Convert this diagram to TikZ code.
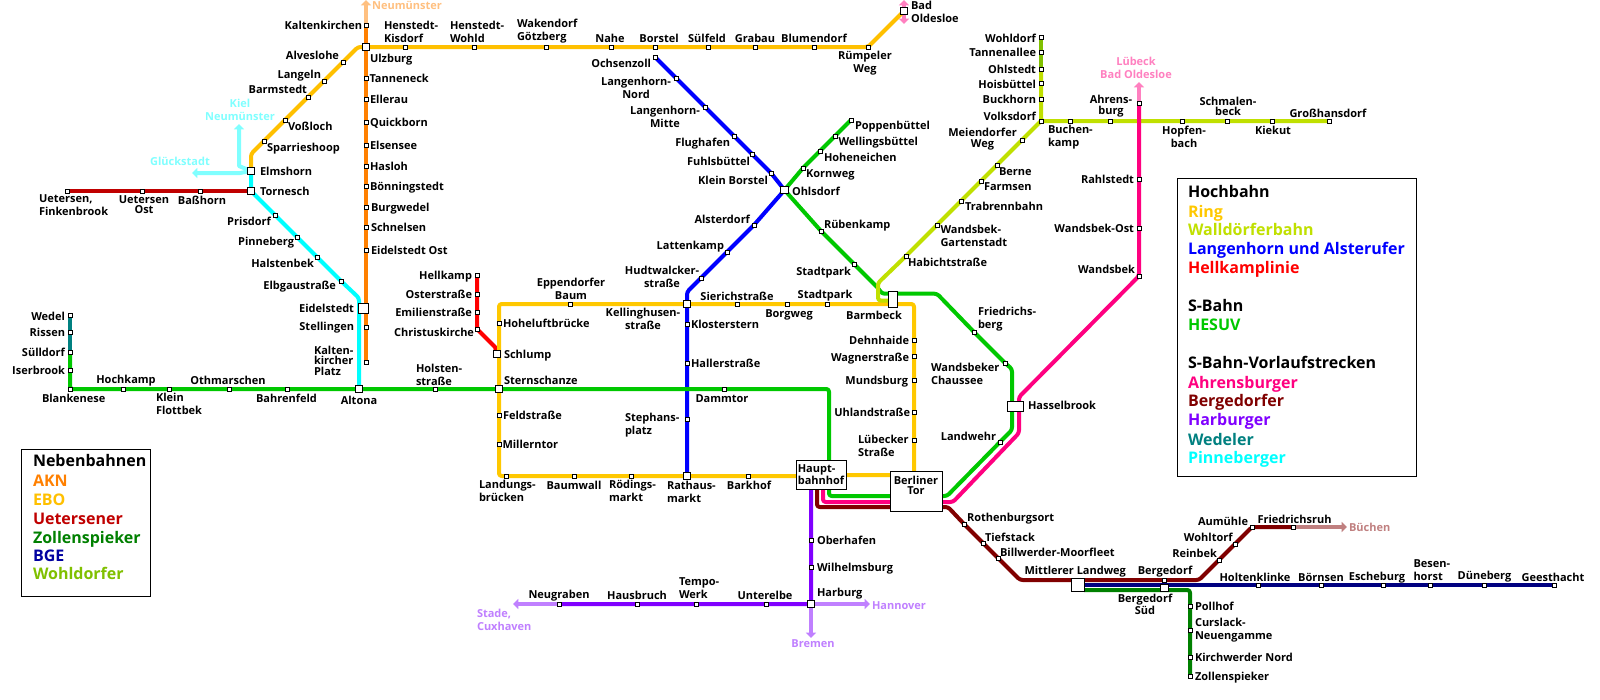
\documentclass[tikz,border=0pt]{standalone}
\usepackage{fontspec}
\setmainfont{Open Sans}
\usetikzlibrary{backgrounds,arrows.meta}
\definecolor{cRing}{HTML}{FFC800}
\definecolor{cEBO}{HTML}{FFC000}
\definecolor{cAKN}{HTML}{FF8000}
\definecolor{cUet}{HTML}{C00000}
\definecolor{cZol}{HTML}{008000}
\definecolor{cBGE}{HTML}{000080}
\definecolor{cBGEt}{HTML}{0000A0}
\definecolor{cWoh}{HTML}{80C000}
\definecolor{cWal}{HTML}{C0E000}
\definecolor{cLan}{HTML}{0000FF}
\definecolor{cHel}{HTML}{FF0000}
\definecolor{cHes}{HTML}{00C800}
\definecolor{cAhr}{HTML}{FF0080}
\definecolor{cBer}{HTML}{800000}
\definecolor{cHar}{HTML}{8000FF}
\definecolor{cWed}{HTML}{008080}
\definecolor{cPin}{HTML}{00FFFF}
\definecolor{lPin}{HTML}{80FFFF}
\definecolor{lAKN}{HTML}{FFC080}
\definecolor{lAhr}{HTML}{FF80C0}
\definecolor{lHar}{HTML}{C080FF}
\definecolor{lBer}{HTML}{C08080}
\tikzset{
  stopn/.style={draw=black,fill=white,line width=.75pt,inner sep=0pt,outer sep=0pt,minimum size=3pt},
  sqn/.style={draw=black,fill=white,line width=.75pt,inner sep=0pt,outer sep=0pt,minimum size=5.4pt},
  lbl/.style={inner sep=0pt,outer sep=0pt,yshift=-.75pt,font=\fontsize{8.25}{9.75}\bfseries\selectfont,
    execute at begin node={\leavevmode\vphantom{Äg}},execute at end node={\vphantom{g}}},
  tight/.style={font=\fontsize{8.25}{7.9}\bfseries\selectfont},
  leg/.style={lbl,anchor=west,font=\fontsize{12}{14}\bfseries\selectfont},
  legbox/.style={draw=black,line width=.75pt,fill=white,anchor=north west,inner sep=0pt,outer sep=0pt},
  linebase/.style={line width=3pt,line join=round,rounded corners=2pt},
  arrowline/.style={line width=3pt,line join=round,-{Triangle[length=4pt,width=7.5pt]}},
}
\newcount\lbn
\newcommand\lL[4][]{\global\advance\lbn by 1 \node[lbl,anchor=west,align=left,#1] (lb\the\lbn) at (#2,#3) {#4};}
\newcommand\lR[4][]{\global\advance\lbn by 1 \node[lbl,anchor=east,align=right,#1] (lb\the\lbn) at (#2,#3) {#4};}
\newcommand\lC[4][]{\global\advance\lbn by 1 \node[lbl,anchor=center,align=center,#1] (lb\the\lbn) at (#2,#3) {#4};}
\newcommand\st[3]{\node[stopn] (#1) at (#2,#3) {};}
\newcommand\sq[4][]{\node[sqn,#1] (#2) at (#3,#4) {};}
\newcommand\legl[4]{\global\advance\lbn by 1 \node[leg,text=#3] (lb\the\lbn) at (#1,#2) {#4};}
\begin{document}
\begin{tikzpicture}[x=.75pt,y=-.75pt]
\useasboundingbox (0,0) rectangle (1600,700);
% ---------- legend boxes
\node[legbox,minimum width=96.75pt,minimum height=110.25pt] (legA) at (21,449) {};
\node[legbox,minimum width=179.25pt,minimum height=223.5pt] (legB) at (1177,178) {};
\legl{33}{460}{black}{Nebenbahnen}
\legl{33}{480}{cAKN}{AKN}
\legl{33}{499}{cEBO}{EBO}
\legl{33}{518}{cUet}{Uetersener}
\legl{33}{537}{cZol}{Zollenspieker}
\legl{33}{555}{cBGEt}{BGE}
\legl{33}{573}{cWoh}{Wohldorfer}
\legl{1188}{191}{black}{Hochbahn}
\legl{1188}{211}{cRing}{Ring}
\legl{1188}{229}{cWal}{Walldörferbahn}
\legl{1188}{248}{cLan}{Langenhorn und Alsterufer}
\legl{1188}{267}{cHel}{Hellkamplinie}
\legl{1188}{305}{black}{S-Bahn}
\legl{1188}{324}{cHes}{HESUV}
\legl{1188}{362}{black}{S-Bahn-Vorlaufstrecken}
\legl{1188}{382}{cAhr}{Ahrensburger}
\legl{1188}{400}{cBer}{Bergedorfer}
\legl{1188}{419}{cHar}{Harburger}
\legl{1188}{439}{cWed}{Wedeler}
\legl{1188}{457}{cPin}{Pinneberger}
% ---------- AKN
\st{kalt}{366}{25}\sq{ulz}{366}{47}\st{tann}{366}{78}\st{elle}{366}{99}\st{quick}{366}{122}
\st{else}{366}{145}\st{hasl}{366}{166}\st{boen}{366}{186}\st{burg}{366}{207}\st{schn}{366}{227}
\st{eidO}{366}{250}\st{stel}{366}{327}\st{kaltP}{366}{362}
\coordinate (neumN) at (366,0);
% ---------- EBO
\st{hkis}{405}{47}\st{hwoh}{474}{47}\st{wake}{546}{47}\st{nahe}{611}{47}\st{bors}{655}{47}
\st{suel}{708}{47}\st{grab}{755}{47}\st{blum}{814}{47}\st{ruem}{868}{47}\sq{oldes}{904}{11}
\coordinate (ulzW) at (358,47);
\st{alve}{343}{62}\st{lang}{324}{81}\st{barm}{308}{97}\st{voss}{285}{120}\st{spar}{264}{141}
\coordinate (ebobend) at (251,154);
\sq{elms}{251}{171}\sq{torn}{251}{191}
\coordinate (oldN) at (904,0);\coordinate (oldS) at (904,24);
% ---------- Uetersen
\st{uetF}{67}{191}\st{uetO}{142}{191}\st{bass}{200}{191}
% ---------- Pinneberg
\coordinate (pinb) at (254,194);
\st{pris}{275}{215}\st{pinn}{297}{237}\st{halb}{317}{257}\st{elbg}{341}{281}
\coordinate (pine) at (359,298);
\sq[minimum size=7.5pt]{eids}{363}{308}
\sq{alto}{359}{389}
\coordinate (gluek) at (192,173);\coordinate (kiel) at (239,124);\coordinate (kielb) at (239,166);\coordinate (glb) at (240,173);
% ---------- Wedel / HESUV west
\st{wede}{70}{315}\st{riss}{70}{332}\st{suel2}{70}{352}\st{iser}{70}{370}\st{blan}{70}{389}
\st{hoch}{123}{389}\st{klei}{169}{389}\st{othm}{229}{389}\st{bahr}{287}{389}\st{hols}{435}{389}
\sq{ster}{499}{389}\st{damm}{724}{389}
\coordinate (hesC) at (829,389);\coordinate (hesH) at (829,496);
% ---------- Hellkamp
\st{hell}{477}{275}\st{oste}{477}{294}\st{emil}{477}{312}\st{chri}{477}{329}
\coordinate (helb) at (495,347);
\sq{schl}{497}{354}
% ---------- Ring
\st{hohe}{499}{323}\st{feld}{499}{415}\st{mill}{499}{444}
\coordinate (rNW) at (499,304);\coordinate (rSW) at (499,476);\coordinate (rNE) at (914,304);\coordinate (rSE) at (914,475);
\st{land}{506}{476}\st{baum}{574}{476}\st{roed}{631}{476}\sq{rath}{687}{476}\st{bark}{748}{476}
\st{eppe}{570}{304}\sq{kell}{687}{304}\st{sier}{737}{304}\st{borg}{787}{304}\st{stpR}{827}{304}
\st{dehn}{914}{340}\st{wagn}{914}{356}\st{mund}{914}{380}\st{uhla}{914}{412}\st{luebS}{914}{440}
% ---------- Langenhorn
\st{ochs}{655}{57}\st{lanN}{676}{78}\st{lanM}{705}{107}\st{flug}{734}{136}\st{fuhl}{752}{154}\st{kbor}{771}{173}
\sq{ohls}{784.5}{190}\st{alst}{754}{225}\st{latt}{727}{252}\st{hudt}{701}{278}
\coordinate (kellN) at (687,292);
\st{klos}{687}{324}\st{hall}{687}{363}\st{step}{687}{419}
% ---------- HESUV east
\st{popp}{851}{120}\st{well}{835}{136}\st{hohn}{820}{151}\st{korn}{803}{168}\st{ruebk}{821}{231}\st{stpG}{854}{264}
\coordinate (hb1) at (878,288);\coordinate (hb2) at (882,293.7);\coordinate (hb3) at (937,293.7);
\st{frie}{974}{332}\st{wand}{1005}{363}\coordinate (hb4) at (1012,369);\coordinate (hb5) at (1012,430);
\st{lawe}{1000}{442}\coordinate (hb6) at (947,496);
\node[sqn,minimum width=12pt,minimum height=7.5pt] (hass) at (1015,406) {};
\node[sqn,minimum width=6.75pt,minimum height=12pt] (barm2) at (892.5,299) {};
% ---------- Walddörfer
\st{wohl}{1041}{37}\st{tanl}{1041}{52}\st{ohls2}{1041}{69}\st{hois}{1041}{83}\st{buck}{1041}{99}\st{volk}{1041}{121}
\st{buch}{1070}{121}\st{ahrb}{1110}{121}\st{hopf}{1182}{121}\st{scmb}{1227}{121}\st{kiek}{1272}{121}\st{gros}{1329}{121}
\st{meie}{1022}{140}\st{bern}{997}{165}\st{farm}{981}{181}\st{trab}{961}{201}\st{wgar}{937}{225}\st{habi}{906}{256}
\coordinate (wb1) at (878,283);\coordinate (wb2) at (878,300.5);\coordinate (wb3) at (892.5,300.5);
% ---------- Ahrensburg
\st{ahrE}{1139}{103}\st{rahl}{1139}{179}\st{wost}{1139}{228}\st{wbek}{1139}{276}
\coordinate (ahrN) at (1139,82);
\coordinate (pk1) at (1019,397);\coordinate (pk2) at (1019,433);\coordinate (pk3) at (953,502);
\coordinate (pk4) at (823,502);\coordinate (pk5) at (823,485);
% ---------- big boxes
\node[sqn,minimum width=37.5pt,minimum height=21.75pt,font=\fontsize{8.25}{9}\bfseries\selectfont,align=left] (hbf) at (821,475) {Haupt-\\bahnhof};
\node[sqn,minimum width=39pt,minimum height=30pt,font=\fontsize{8.25}{7.6}\bfseries\selectfont,align=center,text depth=9pt] (tor) at (916,491) {Berliner\\Tor};
% ---------- Bergedorf
\coordinate (be1) at (817,485);\coordinate (be2) at (817,507);\coordinate (be3) at (948,507);
\st{roth}{964}{524}\st{tief}{983}{543}\st{bill}{998}{558}\coordinate (be4) at (1020,580);
\node[sqn,minimum width=9.75pt,minimum height=9.75pt] (mitt) at (1078,585) {};
\st{berg}{1164}{580}\coordinate (be5) at (1199,580);\st{rein}{1219}{560}\st{wolt}{1235}{544}\st{aumu}{1252}{527}\st{frdr}{1293}{527}
\coordinate (buech) at (1347,527);
% ---------- BGE + Zollenspieker
\sq{bsued}{1164.5}{588}
\st{holt}{1258}{585}\st{boern}{1321}{585}\st{esch}{1383}{585}\st{besn}{1430}{585}\st{duen}{1484}{585}\st{gees}{1554}{585}
\coordinate (mittE) at (1084,585);
\coordinate (zo1) at (1084,590);\coordinate (zo2) at (1190,590);
\st{poll}{1190}{606}\st{curs}{1190}{630}\st{kirc}{1190}{657}\st{zoll}{1190}{676}
% ---------- Harburg
\coordinate (hbS) at (811,485);
\st{ober}{811}{540}\st{wilh}{811}{567}\sq{harb}{811}{604}
\st{unte}{766}{604}\st{temp}{696}{604}\st{haus}{637}{604}\st{neug}{559}{604}
\coordinate (sta) at (513,604);\coordinate (han) at (870,604);\coordinate (bre) at (811,638);
% ---------- labels
\lR{362}{25}{Kaltenkirchen}
\lL{384}{32.5}{Henstedt-\\Kisdorf}
\lL{450}{32.5}{Henstedt-\\Wohld}
\lL{517}{30}{Wakendorf\\Götzberg}
\lC{610}{38}{Nahe}\lC{659}{38}{Borstel}\lC{707}{38}{Sülfeld}\lC{755}{38}{Grabau}\lC{814}{38}{Blumendorf}
\lC{865}{62}{Rümpeler\\Weg}
\lL{911}{12.5}{Bad\\Oldesloe}
\lL{370}{58}{Ulzburg}\lL{369.5}{78}{Tanneneck}\lL{370}{99}{Ellerau}\lL{370}{122}{Quickborn}\lL{370}{145}{Elsensee}
\lL{370}{166}{Hasloh}\lL{370}{186}{Bönningstedt}\lL{371}{207}{Burgwedel}\lL{371}{227}{Schnelsen}\lL{371}{250}{Eidelstedt Ost}
\lR{339}{55}{Alveslohe}\lR{321}{74}{Langeln}\lR{307}{89}{Barmstedt}\lL{288}{126}{Voßloch}\lL{267}{147}{Sparrieshoop}
\lL{260}{171}{Elmshorn}\lL{260}{191}{Tornesch}
\lL{39}{205.5}{Uetersen,\\Finkenbrook}
\lC[tight]{144}{205}{Uetersen\\Ost}
\lC{202}{200}{Baßhorn}
\lR{271}{221}{Prisdorf}\lR{294}{241}{Pinneberg}\lR{314}{263}{Halstenbek}\lR{336}{285}{Elbgaustraße}
\lR{354}{308}{Eidelstedt}\lR{354}{326}{Stellingen}
\lL[tight]{314}{361}{Kalten-\\kircher\\Platz}
\lR{65}{316}{Wedel}\lR{65}{332}{Rissen}\lR{65}{352}{Sülldorf}\lR{65}{370}{Iserbrook}
\lL{42}{398}{Blankenese}\lC{126}{379}{Hochkamp}\lL{156}{404.5}{Klein\\Flottbek}\lC{228}{380}{Othmarschen}
\lC{286.5}{398}{Bahrenfeld}\lC{359}{400}{Altona}\lL{416}{375}{Holsten-\\straße}
\lL{504}{380}{Sternschanze}\lL{504}{354}{Schlump}
\lR{472}{275}{Hellkamp}\lR{472}{294}{Osterstraße}\lR{472}{312}{Emilienstraße}\lR{474}{332}{Christuskirche}
\lL{503}{323}{Hoheluftbrücke}\lL{503}{415}{Feldstraße}\lL{502.5}{444}{Millerntor}
\lC{571}{289.5}{Eppendorfer\\Baum}\lC{643}{319.5}{Kellinghusen-\\straße}\lC{662}{277.5}{Hudtwalcker-\\straße}
\lR{724}{245}{Lattenkamp}\lR{750}{219}{Alsterdorf}
\lR{651}{63}{Ochsenzoll}\lC{636}{88}{Langenhorn-\\Nord}\lC{665}{117}{Langenhorn-\\Mitte}
\lR{730}{142}{Flughafen}\lR{750}{161}{Fuhlsbüttel}\lR{768}{180}{Klein Borstel}\lL{792}{191}{Ohlsdorf}
\lL{855}{125}{Poppenbüttel}\lL{838.5}{141}{Wellingsbüttel}\lL{824}{157}{Hoheneichen}\lL{806}{173}{Kornweg}
\lL{824}{224}{Rübenkamp}\lR{851}{271}{Stadtpark}
\lL{691}{324}{Klosterstern}\lL{691}{363}{Hallerstraße}\lL{625}{424.5}{Stephans-\\platz}\lC{722}{398}{Dammtor}
\lC{737}{296}{Sierichstraße}\lC{789}{313}{Borgweg}\lC{825}{294}{Stadtpark}\lC{874}{315}{Barmbeck}
\lR{909}{340}{Dehnhaide}\lR{909}{357}{Wagnerstraße}\lR{908}{380}{Mundsburg}\lR{910}{412}{Uhlandstraße}
\lL{858}{446.5}{Lübecker\\Straße}
\lL{931}{374.5}{Wandsbeker\\Chaussee}\lL{978}{318.5}{Friedrichs-\\berg}\lR{996}{436}{Landwehr}\lL{1028}{405}{Hasselbrook}
\lL{479}{491.5}{Landungs-\\brücken}\lC{574}{485}{Baumwall}\lL{609}{491.5}{Rödings-\\markt}\lL{667}{492.5}{Rathaus-\\markt}\lC{749}{485}{Barkhof}
\lL{817}{540}{Oberhafen}\lL{817}{567}{Wilhelmsburg}\lL{817}{592}{Harburg}
\lC{559}{594}{Neugraben}\lC{637}{595}{Hausbruch}\lL{679}{588.5}{Tempo-\\Werk}\lC{765}{595}{Unterelbe}
\lL[text=lHar]{872}{605}{Hannover}\lC[text=lHar]{813}{643}{Bremen}\lL[text=lHar]{477}{620.5}{Stade,\\Cuxhaven}
\lR{1036}{38}{Wohldorf}\lR{1036}{52}{Tannenallee}\lR{1036}{69}{Ohlstedt}\lR{1036}{84}{Hoisbüttel}\lR{1036}{99}{Buckhorn}\lR{1036}{116}{Volksdorf}
\lC[tight]{982.5}{138}{Meiendorfer\\Weg}
\lL{999}{171}{Berne}\lL{984}{186}{Farmsen}\lL{965}{206}{Trabrennbahn}\lL{940.5}{236.5}{Wandsbek-\\Gartenstadt}\lL{908}{262}{Habichtstraße}
\lL{1048}{136.5}{Buchen-\\kamp}\lC[tight]{1111}{105}{Ahrens-\\burg}\lC{1184}{137}{Hopfen-\\bach}\lC[tight]{1228}{106.5}{Schmalen-\\beck}
\lC{1273}{130}{Kiekut}\lC{1328}{113}{Großhansdorf}
\lR{1134}{179}{Rahlstedt}\lR{1134}{228}{Wandsbek-Ost}\lR{1135}{269}{Wandsbek}
\lC[text=lAhr]{1136}{68}{Lübeck\\Bad Oldesloe}
\lC[text=lAKN]{407}{5}{Neumünster}
\lC[text=lPin]{240}{110}{Kiel\\Neumünster}
\lC[text=lPin]{180}{161}{Glückstadt}
\lL{967}{517}{Rothenburgsort}\lL{985}{537}{Tiefstack}\lL{1000}{552}{Billwerder-Moorfleet}\lL{1024.5}{570}{Mittlerer Landweg}
\lC{1165}{570}{Bergedorf}\lR{1248}{521}{Aumühle}\lL{1257.5}{519}{Friedrichsruh}\lR{1232.6}{537}{Wohltorf}\lR{1217}{553}{Reinbek}
\lL[text=lBer]{1349}{527}{Büchen}
\lC{1255}{577}{Holtenklinke}\lC{1321}{577}{Börnsen}\lC{1377}{576}{Escheburg}\lL{1413.5}{570.5}{Besen-\\horst}\lC{1484.5}{575}{Düneberg}\lC{1553}{576.5}{Geesthacht}
\lC[tight]{1145}{604.5}{Bergedorf\\Süd}
\lL{1195}{606}{Pollhof}\lL{1195}{629.5}{Curslack-\\Neuengamme}\lL{1195}{657}{Kirchwerder Nord}\lL{1195}{676}{Zollenspieker}
% ---------- connectors
\begin{scope}[on background layer]
\fill[white] (0,0) rectangle (1600,700);
\draw[arrowline,lAKN] (kalt.center) -- (neumN);
\draw[linebase,cAKN] (kalt.center) -- (ulz.center) -- (tann.center) -- (elle.center) -- (quick.center) -- (else.center) -- (hasl.center) -- (boen.center) -- (burg.center) -- (schn.center) -- (eidO.center) -- (stel.center) -- (kaltP.center);
\draw[arrowline,lAhr] (oldes.center) -- (oldN);
\draw[arrowline,lAhr] (oldes.center) -- (oldS);
\draw[linebase,cEBO] (elms.center) -- (ebobend) -- (spar.center) -- (voss.center) -- (barm.center) -- (lang.center) -- (alve.center) -- (ulzW) -- (ulz.center) -- (hkis.center) -- (hwoh.center) -- (wake.center) -- (nahe.center) -- (bors.center) -- (suel.center) -- (grab.center) -- (blum.center) -- (ruem.center) -- (oldes.center);
\draw[line width=3pt,cUet] (uetF.center) -- (uetO.center) -- (bass.center) -- (torn.center);
\draw[arrowline,lPin] (elms.center) -- (glb) -- (gluek);
\draw[arrowline,lPin] (elms.center) -- (kielb) -- (kiel);
\draw[linebase,cPin] (elms.center) -- (torn.center) -- (pinb) -- (pris.center) -- (pinn.center) -- (halb.center) -- (elbg.center) -- (pine) -- (alto.center);
\draw[line width=3pt,cWed] (wede.center) -- (riss.center) -- (suel2.center);
\draw[line width=3pt,cHel,line join=round] (hell.center) -- (oste.center) -- (emil.center) -- (chri.center) -- (helb) -- (schl.center);
\draw[linebase,cRing] (hbf.center) -- (rSE) -- (tor.north -| rSE) -- (luebS.center) -- (uhla.center) -- (mund.center) -- (wagn.center) -- (dehn.center) -- (rNE) -- (stpR.center) -- (borg.center) -- (sier.center) -- (kell.center) -- (eppe.center) -- (rNW) -- (hohe.center) -- (ster.center) -- (feld.center) -- (mill.center) -- (rSW) -- (land.center) -- (baum.center) -- (roed.center) -- (rath.center) -- (bark.center) -- (hbf.center |- bark.center);
\draw[linebase,cLan] (ochs.center) -- (lanN.center) -- (lanM.center) -- (flug.center) -- (fuhl.center) -- (kbor.center) -- (ohls.center) -- (alst.center) -- (latt.center) -- (hudt.center) -- (kellN) -- (kell.center) -- (klos.center) -- (hall.center) -- (step.center) -- (rath.center);
\draw[linebase,cHes] (suel2.center) -- (iser.center) -- (blan.center) -- (hoch.center) -- (klei.center) -- (othm.center) -- (bahr.center) -- (alto.center) -- (hols.center) -- (ster.center) -- (damm.center) -- (hesC) -- (hesH) -- (tor.center |- hesH) -- (hb6) -- (lawe.center) -- (hb5) -- (hass.center -| hb5) -- (hb4) -- (wand.center) -- (frie.center) -- (hb3) -- (barm2.center |- hb3);
\draw[linebase,cHes] (barm2.center |- hb3) -- (hb2) -- (hb1) -- (stpG.center) -- (ruebk.center) -- (ohls.center) -- (korn.center) -- (hohn.center) -- (well.center) -- (popp.center);
\draw[line width=3pt,cWoh] (wohl.center) -- (tanl.center) -- (ohls2.center);
\draw[linebase,cWal] (ohls2.center) -- (hois.center) -- (buck.center) -- (volk.center) -- (buch.center) -- (ahrb.center) -- (hopf.center) -- (scmb.center) -- (kiek.center) -- (gros.center);
\draw[linebase,cWal] (volk.center) -- (meie.center) -- (bern.center) -- (farm.center) -- (trab.center) -- (wgar.center) -- (habi.center) -- (wb1) -- (wb2) -- (wb3);
\draw[linebase,cAhr] (pk5) -- (pk4) -- (tor.center |- pk4) -- (pk3) -- (pk2) -- (hass.center -| pk2) -- (pk1) -- (wbek.center) -- (wost.center) -- (rahl.center) -- (ahrE.center);
\draw[arrowline,lAhr] (ahrE.center) -- (ahrN);
\draw[linebase,cBer] (be1) -- (be2) -- (be3) -- (roth.center) -- (tief.center) -- (bill.center) -- (be4) -- (mitt.center |- be4) -- (berg.center) -- (be5) -- (rein.center) -- (wolt.center) -- (aumu.center) -- (frdr.center);
\draw[arrowline,lBer] (frdr.center) -- (buech);
\draw[line width=3pt,cBGE] (mittE) -- (bsued.center |- mittE) -- (holt.center) -- (boern.center) -- (esch.center) -- (besn.center) -- (duen.center) -- (gees.center);
\draw[linebase,cZol] (zo1) -- (zo2) -- (poll.center) -- (curs.center) -- (kirc.center) -- (zoll.center);
\draw[arrowline,lHar] (neug.center) -- (sta);
\draw[arrowline,lHar] (harb.center) -- (han);
\draw[arrowline,lHar] (harb.center) -- (bre);
\draw[linebase,cHar] (hbS) -- (ober.center) -- (wilh.center) -- (harb.center) -- (unte.center) -- (temp.center) -- (haus.center) -- (neug.center);
\end{scope}
\end{tikzpicture}
\end{document}
